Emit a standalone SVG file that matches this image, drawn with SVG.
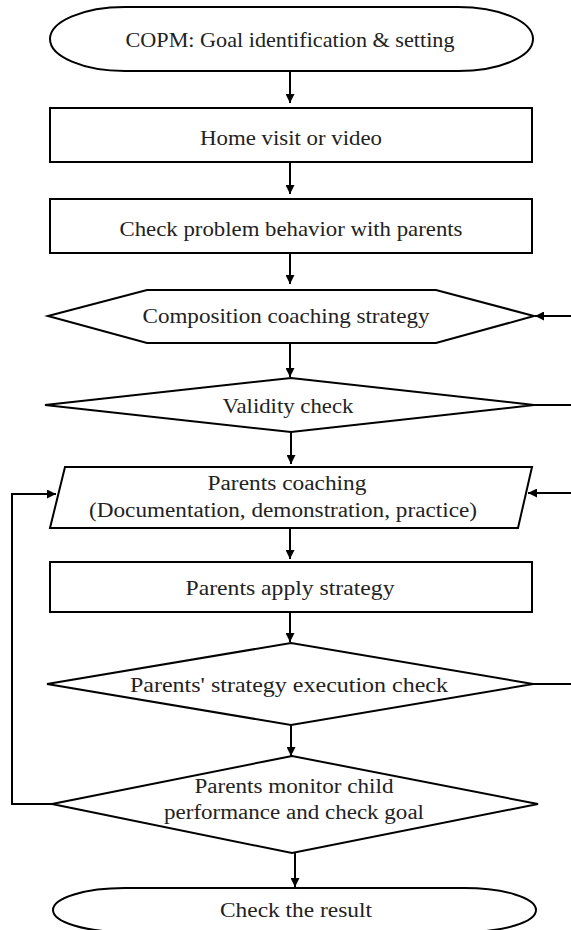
<svg xmlns="http://www.w3.org/2000/svg" width="571" height="930" viewBox="0 0 571 930">
<style>
.s{fill:#fff;stroke:#000;stroke-width:2}
.c{fill:none;stroke:#000;stroke-width:2}
text{font-family:"Liberation Serif","Times New Roman",serif;font-size:22px;fill:#222;text-anchor:middle}
.sm{font-size:20px}
</style>
<defs>
<marker id="ah" viewBox="0 0 10 10" refX="10" refY="5" markerWidth="4.5" markerHeight="4.5" orient="auto" markerUnits="strokeWidth">
<path d="M0,0 L10,5 L0,10 z" fill="#000"/>
</marker>
</defs>
<rect width="571" height="930" fill="#fff"/>
<g id="connectors">
<line class="c" x1="290" y1="71" x2="290" y2="103" marker-end="url(#ah)"/>
<line class="c" x1="290" y1="162" x2="290" y2="194" marker-end="url(#ah)"/>
<line class="c" x1="290" y1="253" x2="290" y2="284" marker-end="url(#ah)"/>
<line class="c" x1="290" y1="343" x2="290" y2="377" marker-end="url(#ah)"/>
<line class="c" x1="291" y1="432" x2="291" y2="464" marker-end="url(#ah)"/>
<line class="c" x1="290" y1="528" x2="290" y2="559" marker-end="url(#ah)"/>
<line class="c" x1="290" y1="612" x2="290" y2="642" marker-end="url(#ah)"/>
<line class="c" x1="291" y1="725" x2="291" y2="756" marker-end="url(#ah)"/>
<line class="c" x1="295" y1="853" x2="295" y2="887" marker-end="url(#ah)"/>
<line class="c" x1="571" y1="316" x2="535" y2="316" marker-end="url(#ah)"/>
<line class="c" x1="534" y1="405" x2="571" y2="405"/>
<line class="c" x1="571" y1="493" x2="528" y2="493" marker-end="url(#ah)"/>
<line class="c" x1="533" y1="684" x2="571" y2="684"/>
<polyline class="c" points="52,804 12,804 12,494 56,494" marker-end="url(#ah)"/>
</g>
<g id="n1"><rect class="s" x="50" y="7" width="483" height="64" rx="75" ry="32"/><text x="290" y="47" textLength="329" lengthAdjust="spacingAndGlyphs">COPM: Goal identification &amp; setting</text></g>
<g id="n2"><rect class="s" x="50" y="108" width="482" height="54"/><text x="291" y="145" textLength="182" lengthAdjust="spacingAndGlyphs">Home visit or video</text></g>
<g id="n3"><rect class="s" x="50" y="199" width="482" height="54"/><text x="291" y="236" textLength="343" lengthAdjust="spacingAndGlyphs">Check problem behavior with parents</text></g>
<g id="n4"><polygon class="s" points="48,316 147,290 436,290 534,316 436,343 147,343"/><text x="286" y="323" textLength="287" lengthAdjust="spacingAndGlyphs">Composition coaching strategy</text></g>
<g id="n5"><polygon class="s" points="45,405 291,378 534,405 291,432"/><text x="288" y="413" textLength="131" lengthAdjust="spacingAndGlyphs">Validity check</text></g>
<g id="n6"><polygon class="s" points="65,467 532,467 518,528 50,528"/><text x="287" y="490" class="sm" textLength="159" lengthAdjust="spacingAndGlyphs">Parents coaching</text><text x="283" y="517" class="sm" textLength="388" lengthAdjust="spacingAndGlyphs">(Documentation, demonstration, practice)</text></g>
<g id="n7"><rect class="s" x="50" y="562" width="482" height="50"/><text x="290" y="595" textLength="209" lengthAdjust="spacingAndGlyphs">Parents apply strategy</text></g>
<g id="n8"><polygon class="s" points="47,684 291,643 533,684 291,725"/><text x="289" y="692" textLength="318" lengthAdjust="spacingAndGlyphs">Parents' strategy execution check</text></g>
<g id="n9"><polygon class="s" points="52,804 292,756 538,804 292,853"/><text x="294" y="793" class="sm" textLength="199" lengthAdjust="spacingAndGlyphs">Parents monitor child</text><text x="294" y="819" class="sm" textLength="260" lengthAdjust="spacingAndGlyphs">performance and check goal</text></g>
<g id="n10"><rect class="s" x="53" y="888" width="483" height="44" rx="72" ry="22"/><text x="296" y="917" textLength="152" lengthAdjust="spacingAndGlyphs">Check the result</text></g>
</svg>
